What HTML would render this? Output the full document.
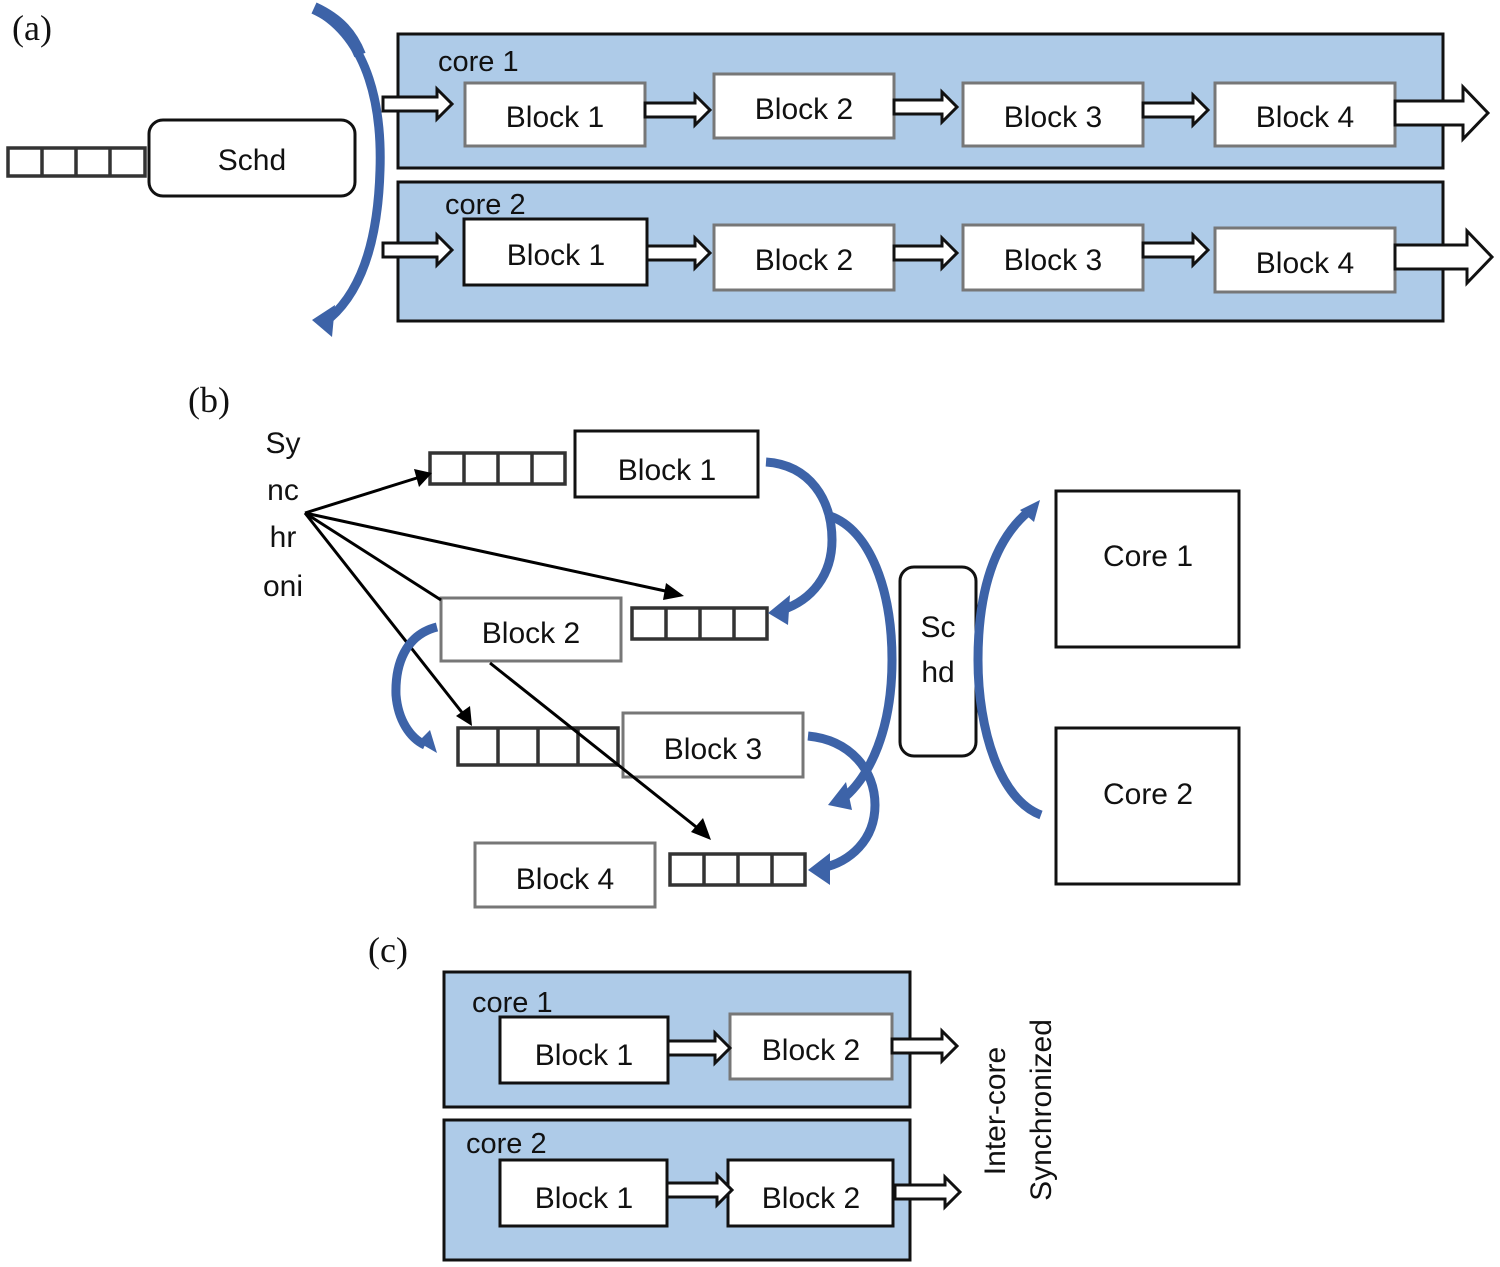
<!DOCTYPE html>
<html><head><meta charset="utf-8"><style>
html,body{margin:0;padding:0;background:#fff}
svg{display:block}
text{font-family:"Liberation Sans",sans-serif;fill:#111}
.t{font-size:30px;text-anchor:middle}
.ser{font-family:"Liberation Serif",serif;font-size:36px}
.core{fill:#aecbe8;stroke:#111;stroke-width:3}
.bg{fill:#fff;stroke:#777;stroke-width:3}
.bk{fill:#fff;stroke:#111;stroke-width:3}
.ar{fill:#fff;stroke:#111;stroke-width:3;stroke-linejoin:miter}
.q{fill:#fff;stroke:#333;stroke-width:3.5}
.bl{fill:none;stroke:#3d63a8;stroke-width:9;stroke-linecap:butt}
.bh{fill:#3d63a8}
.ln{stroke:#000;stroke-width:3;fill:none}
</style></head><body>
<svg width="1500" height="1267" viewBox="0 0 1500 1267" xmlns="http://www.w3.org/2000/svg">
<!-- (a) -->
<text x="12" y="40" class="ser">(a)</text>
<rect x="398" y="34" width="1045" height="134" class="core"/>
<rect x="398" y="182" width="1045" height="139" class="core"/>
<text x="438" y="71" style="font-size:29px">core 1</text>
<text x="445" y="214" style="font-size:29px">core 2</text>
<rect x="465" y="83" width="180" height="63" class="bg"/><text x="555" y="127" class="t">Block 1</text>
<rect x="714" y="74" width="180" height="64" class="bg"/><text x="804" y="119" class="t">Block 2</text>
<rect x="963" y="83" width="180" height="63" class="bg"/><text x="1053" y="127" class="t">Block 3</text>
<rect x="1215" y="83" width="180" height="63" class="bg"/><text x="1305" y="127" class="t">Block 4</text>
<rect x="464" y="219" width="183" height="66" class="bk"/><text x="556" y="265" class="t">Block 1</text>
<rect x="714" y="225" width="180" height="65" class="bg"/><text x="804" y="270" class="t">Block 2</text>
<rect x="963" y="225" width="180" height="65" class="bg"/><text x="1053" y="270" class="t">Block 3</text>
<rect x="1215" y="228" width="180" height="64" class="bg"/><text x="1305" y="273" class="t">Block 4</text>
<polygon class="ar" points="383,97 437,97 437,89 452,104 437,119 437,111 383,111"/>
<polygon class="ar" points="645,103 695,103 695,95 710,110 695,125 695,117 645,117"/>
<polygon class="ar" points="894,100 942,100 942,92 957,107 942,122 942,114 894,114"/>
<polygon class="ar" points="1143,103 1193,103 1193,95 1208,110 1193,125 1193,117 1143,117"/>
<polygon class="ar" points="1395,101 1463,101 1463,87 1488,113 1463,139 1463,125 1395,125"/>
<polygon class="ar" points="383,243 437,243 437,235 452,250 437,265 437,257 383,257"/>
<polygon class="ar" points="647,246 695,246 695,238 710,253 695,268 695,260 647,260"/>
<polygon class="ar" points="894,246 942,246 942,238 957,253 942,268 942,260 894,260"/>
<polygon class="ar" points="1143,243 1193,243 1193,235 1208,250 1193,265 1193,257 1143,257"/>
<polygon class="ar" points="1395,245 1467,245 1467,231 1492,257 1467,283 1467,269 1395,269"/>
<rect x="149" y="120" width="206" height="76" rx="14" class="bk"/><text x="252" y="170" class="t">Schd</text>
<rect x="8" y="148" width="137" height="28" class="q"/>
<path d="M42,148V176M76,148V176M110,148V176" style="stroke:#333;stroke-width:3.5"/>
<path class="bl" d="M316,10 C370,40 382,110 380,170 C378,240 362,290 330,318"/>
<path class="bl" d="M314,8 C340,20 352,35 360,55" style="stroke-width:12"/>
<polygon class="bh" points="312,320 335,305 332,337"/>
<!-- (b) -->
<text x="188" y="412" class="ser">(b)</text>
<text x="283" y="453" class="t">Sy</text>
<text x="283" y="500" class="t">nc</text>
<text x="283" y="547" class="t">hr</text>
<text x="283" y="596" class="t">oni</text>
<rect x="430" y="453" width="135" height="31" class="q"/>
<path d="M464,453V484M498,453V484M532,453V484" style="stroke:#333;stroke-width:3.5"/>
<rect x="575" y="431" width="183" height="66" class="bk"/><text x="667" y="480" class="t">Block 1</text>
<rect x="632" y="608" width="135" height="31" class="q"/>
<path d="M666,608V639M700,608V639M734,608V639" style="stroke:#333;stroke-width:3.5"/>
<rect x="441" y="598" width="180" height="63" class="bg"/><text x="531" y="643" class="t">Block 2</text>
<rect x="458" y="728" width="160" height="37" class="q"/>
<path d="M498,728V765M538,728V765M578,728V765" style="stroke:#333;stroke-width:3.5"/>
<rect x="623" y="713" width="180" height="64" class="bg"/><text x="713" y="759" class="t">Block 3</text>
<rect x="475" y="843" width="180" height="64" class="bg"/><text x="565" y="889" class="t">Block 4</text>
<rect x="670" y="854" width="135" height="31" class="q"/>
<path d="M704,854V885M738,854V885M772,854V885" style="stroke:#333;stroke-width:3.5"/>
<rect x="900" y="567" width="76" height="189" rx="14" class="bk"/>
<text x="938" y="637" class="t">Sc</text><text x="938" y="682" class="t">hd</text>
<rect x="1056" y="491" width="183" height="156" class="bk"/><text x="1148" y="566" class="t">Core 1</text>
<rect x="1056" y="728" width="183" height="156" class="bk"/><text x="1148" y="804" class="t">Core 2</text>
<!-- black arrows -->
<path class="ln" d="M305,513 L420,477"/><polygon points="432,473 414,469 419,487" fill="#000"/>
<path class="ln" d="M305,513 L670,592"/><polygon points="684,596 666,583 663,600" fill="#000"/>
<path class="ln" d="M305,513 L441,600"/>
<path class="ln" d="M305,513 L464,715"/><polygon points="472,726 456,716 470,706" fill="#000"/>
<path class="ln" d="M490,663 L700,830"/><polygon points="711,840 691,832 703,818" fill="#000"/>
<!-- blue curves -->
<path class="bl" d="M766,462 C810,465 832,500 832,540 C832,575 812,600 782,610"/>
<polygon class="bh" points="768,613 790,595 788,625"/>
<path class="bl" d="M830,516 C870,530 892,590 892,660 C892,730 870,775 845,797"/>
<polygon class="bh" points="828,805 846,782 852,810"/>
<path class="bl" d="M808,736 C850,740 875,770 875,805 C875,840 850,862 822,868"/>
<polygon class="bh" points="808,870 830,853 830,885"/>
<path class="bl" d="M437,627 C405,635 395,665 396,695 C398,720 410,738 425,745"/>
<polygon class="bh" points="437,753 418,742 430,730"/>
<path class="bl" d="M1041,815 C1000,800 978,730 978,660 C978,590 995,540 1028,512"/>
<polygon class="bh" points="1040,500 1020,510 1034,522"/>
<!-- (c) -->
<text x="368" y="962" class="ser">(c)</text>
<rect x="444" y="972" width="466" height="135" class="core"/>
<rect x="444" y="1120" width="466" height="140" class="core"/>
<text x="472" y="1012" style="font-size:29px">core 1</text>
<text x="466" y="1153" style="font-size:29px">core 2</text>
<rect x="500" y="1017" width="168" height="66" class="bk"/><text x="584" y="1065" class="t">Block 1</text>
<rect x="730" y="1014" width="162" height="65" class="bg"/><text x="811" y="1060" class="t">Block 2</text>
<rect x="500" y="1160" width="167" height="66" class="bk"/><text x="584" y="1208" class="t">Block 1</text>
<rect x="728" y="1160" width="165" height="66" class="bk"/><text x="811" y="1208" class="t">Block 2</text>
<polygon class="ar" points="668,1041 715,1041 715,1033 730,1048 715,1063 715,1055 668,1055"/>
<polygon class="ar" points="892,1039 942,1039 942,1031 957,1046 942,1061 942,1053 892,1053"/>
<polygon class="ar" points="667,1183 717,1183 717,1175 732,1190 717,1205 717,1197 667,1197"/>
<polygon class="ar" points="895,1185 945,1185 945,1177 960,1192 945,1207 945,1199 895,1199"/>
<text x="0" y="0" class="t" transform="translate(1005,1111) rotate(-90)">Inter-core</text>
<text x="0" y="0" class="t" transform="translate(1051,1110) rotate(-90)">Synchronized</text>
</svg>
</body></html>
